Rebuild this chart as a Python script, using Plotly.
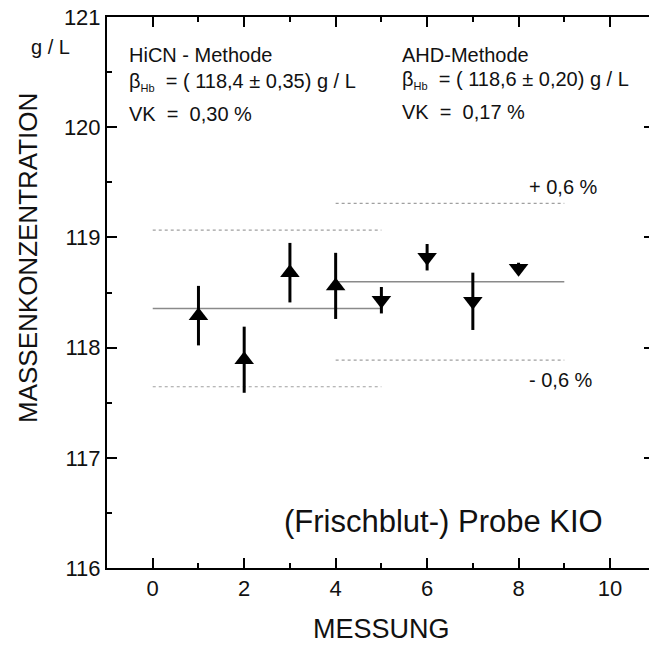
import numpy as np
import plotly.graph_objects as go

# Measurements (g/L) for the two methods
messung_hicn = [1, 2, 3, 4]
werte_hicn = [118.29, 117.89, 118.68, 118.56]
fehler_hicn = [0.27, 0.30, 0.27, 0.30]

messung_ahd = [5, 6, 7, 8]
werte_ahd = [118.43, 118.82, 118.42, 118.72]
fehler_ahd = [0.12, 0.12, 0.26, 0.05]

# Extent of the mean / tolerance lines for each method
bereich_hicn = [0, 5]
bereich_ahd = [4, 9]
toleranz = 0.006  # +/- 0.6 %

x_ticks = [0, 2, 4, 6, 8, 10]
y_ticks = [116, 117, 118, 119, 120, 121]

FONT = "Liberation Sans, Arial, sans-serif"
W, H = 649, 646
ML, MR, MT, MB = 107, 0, 17, 78
PX_PER_X = 45.73
x_lo = -1
x_hi = x_lo + (W - ML - MR) / PX_PER_X


def px(xp):
    return (xp - ML) / (W - ML - MR)


def py(yp):
    return (H - MB - yp) / (H - MT - MB)


fig = go.Figure()

# mean line and +/- 0.6 % band for each method
for bereich, werte in ((bereich_hicn, werte_hicn), (bereich_ahd, werte_ahd)):
    mittel = float(np.mean(werte))
    fig.add_trace(go.Scatter(x=bereich, y=[mittel, mittel], mode="lines",
                             line=dict(color="#8a8a8a", width=1.6),
                             hoverinfo="skip", showlegend=False))
    for f in (1 + toleranz, 1 - toleranz):
        fig.add_trace(go.Scatter(x=bereich, y=[mittel * f] * 2, mode="lines",
                                 line=dict(color="#a0a0a0", width=1.2, dash="3px,3px"),
                                 hoverinfo="skip", showlegend=False))

fig.add_trace(go.Scatter(
    x=messung_hicn, y=werte_hicn, mode="markers",
    marker=dict(symbol="triangle-up", size=17, color="black", line=dict(width=0)),
    error_y=dict(type="data", array=fehler_hicn, color="black", thickness=3, width=0),
    showlegend=False))
fig.add_trace(go.Scatter(
    x=messung_ahd, y=werte_ahd, mode="markers",
    marker=dict(symbol="triangle-down", size=17, color="black", line=dict(width=0)),
    error_y=dict(type="data", array=fehler_ahd, color="black", thickness=3, width=0),
    showlegend=False))

# carrier for the right-hand tick marks
fig.add_trace(go.Scatter(x=[], y=[], yaxis="y2", showlegend=False, hoverinfo="skip"))

axis_common = dict(showgrid=False, zeroline=False, ticks="inside",
                   tickcolor="black", tickwidth=2,
                   tickfont=dict(family=FONT, size=22, color="#111"))

fig.update_layout(
    width=W, height=H,
    margin=dict(l=ML, r=MR, t=MT, b=MB),
    plot_bgcolor="white", paper_bgcolor="white",
    xaxis=dict(range=[x_lo, x_hi], tickvals=x_ticks, ticklen=10,
               showline=True, linecolor="black", linewidth=2, mirror="ticks",
               minor=dict(dtick=1, ticks="inside", ticklen=5, tickwidth=2, tickcolor="black"),
               **axis_common),
    yaxis=dict(range=[116, 121], tickvals=y_ticks, ticklen=10,
               showline=True, linecolor="black", linewidth=2, mirror=False,
               minor=dict(dtick=0.5, ticks="inside", ticklen=5, tickwidth=2, tickcolor="black"),
               **axis_common),
    yaxis2=dict(range=[116, 121], overlaying="y", side="right", tickvals=y_ticks,
                ticklen=5, showline=False, showticklabels=False,
                showgrid=False, zeroline=False, ticks="inside",
                tickcolor="black", tickwidth=2),
)


def txt(s, xp, yp, size=20, xanchor="left", angle=0):
    fig.add_annotation(text=s, x=px(xp), y=py(yp), xref="paper", yref="paper",
                       xanchor=xanchor, yanchor="middle", showarrow=False,
                       textangle=angle,
                       font=dict(family=FONT, size=size, color="#111"))


sub = "<sub><span style='font-size:11px'>Hb</span></sub>"
txt("HiCN - Methode", 127, 55)
txt("\u03b2" + sub + "  = ( 118,4 \u00b1 0,35) g / L", 127, 82)
txt("VK  =  0,30 %", 127, 114)
txt("AHD-Methode", 400, 55)
txt("\u03b2" + sub + "  = ( 118,6 \u00b1 0,20) g / L", 400, 80)
txt("VK  =  0,17 %", 400, 112)
txt("+ 0,6 %", 527, 187)
txt("- 0,6 %", 527, 380)
txt("(Frischblut-) Probe KIO", 443, 521, size=31, xanchor="center")
txt("g / L", 50, 47, size=20, xanchor="center")
txt("MESSUNG", 381, 629, size=27, xanchor="center")
txt("MASSENKONZENTRATION", 28, 258, size=26, xanchor="center", angle=-90)

fig.write_html("out.html")
